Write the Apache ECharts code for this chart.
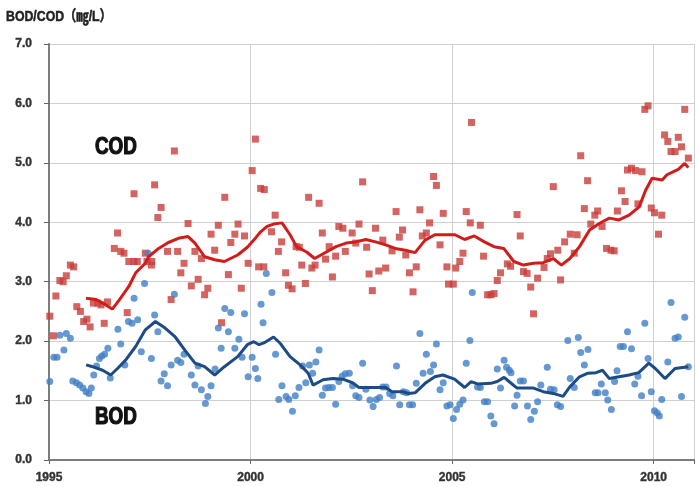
<!DOCTYPE html>
<html>
<head>
<meta charset="utf-8">
<script src="https://cdn.jsdelivr.net/npm/echarts@6/dist/echarts.min.js"></script>
<style>
html,body{margin:0;padding:0;background:#fff;}
#chart{width:697px;height:487px;}
</style>
</head>
<body>
<div id="chart"></div>
<script>
// Monthly COD measurements (year, mg/L)
const codPoints = [
 [1995.02,2.42],[1995.11,2.09],[1995.17,2.76],[1995.27,3.02],[1995.35,3.00],[1995.43,3.10],[1995.53,3.28],[1995.61,3.25],
 [1995.69,2.58],[1995.78,2.50],[1995.86,2.33],[1995.94,2.37],[1996.02,2.24],[1996.10,2.64],[1996.21,2.64],[1996.29,2.61],
 [1996.37,2.30],[1996.45,2.66],[1996.62,3.56],[1996.70,3.82],[1996.78,3.51],[1996.86,3.48],[1996.94,2.48],[1996.98,3.34],
 [1997.11,3.34],[1997.11,4.48],[1997.19,3.34],[1997.39,3.48],[1997.43,3.34],[1997.54,3.28],[1997.55,3.34],[1997.62,4.63],
 [1997.70,4.08],[1997.78,4.25],[1997.94,3.51],[1998.03,2.70],[1998.11,5.20],[1998.19,3.51],[1998.27,3.15],[1998.35,3.31],
 [1998.45,3.98],[1998.53,2.93],[1998.62,3.51],[1998.70,3.04],[1998.78,3.39],[1998.86,2.78],[1998.94,2.89],[1999.02,3.80],
 [1999.11,3.53],[1999.20,3.95],[1999.28,2.31],[1999.36,4.42],[1999.45,3.12],[1999.51,3.66],[1999.61,3.80],[1999.69,3.97],
 [1999.77,2.89],[1999.85,3.77],[1999.94,3.31],[2000.04,4.87],[2000.12,5.40],[2000.20,3.25],[2000.25,4.57],[2000.33,3.25],
 [2000.34,4.55],[2000.52,3.84],[2000.61,4.12],[2000.69,3.51],[2000.77,3.67],[2000.87,3.15],[2000.94,2.94],[2001.03,2.88],
 [2001.13,3.59],[2001.21,3.58],[2001.27,3.28],[2001.36,2.97],[2001.44,4.42],[2001.52,3.23],[2001.60,3.28],[2001.70,4.32],
 [2001.78,3.82],[2001.86,3.38],[2001.95,3.59],[2002.03,3.08],[2002.11,3.43],[2002.19,3.93],[2002.29,3.90],[2002.35,3.51],
 [2002.52,3.82],[2002.61,3.65],[2002.69,3.97],[2002.78,4.68],[2002.88,3.58],[2002.94,3.13],[2003.02,2.85],[2003.10,3.90],
 [2003.18,3.18],[2003.28,3.70],[2003.35,3.23],[2003.51,3.52],[2003.61,4.18],[2003.69,3.75],[2003.77,3.87],[2003.85,3.45],
 [2003.94,3.15],[2004.03,2.83],[2004.11,3.25],[2004.20,4.21],[2004.26,3.77],[2004.36,3.82],[2004.44,3.99],[2004.54,4.77],
 [2004.61,4.62],[2004.70,3.62],[2004.78,4.15],[2004.87,3.25],[2004.91,2.96],[2005.03,2.96],[2005.09,3.23],[2005.19,3.34],
 [2005.27,3.48],[2005.35,4.18],[2005.45,3.99],[2005.48,5.68],[2005.70,3.95],[2005.78,3.43],[2005.88,2.78],[2005.96,2.78],
 [2006.04,2.80],[2006.12,3.02],[2006.20,3.15],[2006.37,3.30],[2006.45,3.26],[2006.61,4.13],[2006.69,3.77],[2006.77,3.17],
 [2006.86,3.14],[2006.95,2.91],[2007.02,2.46],[2007.12,3.06],[2007.28,3.24],[2007.36,3.39],[2007.44,3.47],[2007.51,4.60],
 [2007.62,3.53],[2007.69,3.03],[2007.79,3.67],[2007.93,3.80],[2008.03,3.48],[2008.10,3.79],[2008.19,5.12],[2008.28,4.23],
 [2008.36,4.70],[2008.44,3.97],[2008.54,4.12],[2008.61,4.19],[2008.72,3.93],[2008.83,3.56],[2008.94,3.53],[2009.02,3.52],
 [2009.10,4.19],[2009.20,4.53],[2009.29,4.35],[2009.35,4.88],[2009.45,4.91],[2009.55,4.87],[2009.61,4.31],[2009.71,4.85],
 [2009.78,5.90],[2009.86,5.96],[2009.94,4.24],[2010.02,4.16],[2010.12,3.80],[2010.20,4.12],[2010.27,5.47],[2010.35,5.36],
 [2010.43,5.19],[2010.53,5.19],[2010.61,5.43],[2010.69,5.27],[2010.77,5.90],[2010.86,5.08]
];

// Monthly BOD measurements (year, mg/L)
const bodPoints = [
 [1995.02,1.32],[1995.12,1.73],[1995.20,1.73],[1995.27,2.10],[1995.37,1.85],[1995.43,2.13],[1995.53,2.05],[1995.59,1.33],
 [1995.68,1.30],[1995.76,1.26],[1995.84,1.21],[1995.92,1.15],[1995.99,1.12],[1996.05,1.21],[1996.11,1.43],[1996.18,1.58],
 [1996.25,1.71],[1996.31,1.75],[1996.38,1.78],[1996.46,1.88],[1996.52,1.38],[1996.71,2.20],[1996.78,1.95],[1996.88,1.60],
 [1996.97,2.33],[1997.06,2.30],[1997.11,2.72],[1997.20,2.36],[1997.29,1.82],[1997.37,2.97],[1997.46,3.48],[1997.54,1.71],
 [1997.62,2.44],[1997.70,2.16],[1997.78,1.33],[1997.86,1.45],[1997.94,1.25],[1998.03,1.60],[1998.11,2.79],[1998.19,1.68],
 [1998.27,1.64],[1998.35,1.78],[1998.53,1.43],[1998.62,1.26],[1998.70,1.58],[1998.78,1.18],[1998.88,0.95],[1998.94,1.07],
 [1999.02,1.25],[1999.12,1.53],[1999.20,2.22],[1999.27,1.88],[1999.36,2.55],[1999.45,2.16],[1999.51,2.48],[1999.61,1.88],
 [1999.71,2.03],[1999.79,1.73],[1999.85,2.46],[1999.94,1.40],[2000.04,1.73],[2000.12,1.54],[2000.18,1.37],[2000.26,2.62],
 [2000.31,2.31],[2000.39,3.14],[2000.53,2.82],[2000.62,1.78],[2000.70,1.02],[2000.78,1.25],[2000.88,1.07],[2000.95,1.02],
 [2001.04,0.82],[2001.11,1.08],[2001.20,1.22],[2001.29,1.58],[2001.37,1.30],[2001.46,1.60],[2001.54,1.46],[2001.62,1.65],
 [2001.70,1.85],[2001.78,1.09],[2001.86,1.21],[2001.94,1.22],[2002.03,1.22],[2002.11,0.94],[2002.19,1.32],[2002.27,1.41],
 [2002.35,1.45],[2002.45,1.46],[2002.53,1.25],[2002.61,1.08],[2002.69,1.05],[2002.78,1.63],[2002.86,1.19],[2002.96,1.01],
 [2003.04,0.90],[2003.12,1.02],[2003.20,1.05],[2003.28,1.23],[2003.36,1.23],[2003.45,1.12],[2003.53,1.08],[2003.62,1.58],
 [2003.70,0.93],[2003.79,1.15],[2003.87,1.13],[2003.94,0.93],[2004.02,0.93],[2004.11,1.29],[2004.20,2.13],[2004.28,1.46],
 [2004.36,1.78],[2004.46,1.49],[2004.54,1.60],[2004.61,1.95],[2004.70,1.18],[2004.78,1.30],[2004.87,0.91],[2004.95,0.93],
 [2005.03,0.70],[2005.11,0.85],[2005.19,0.94],[2005.27,1.01],[2005.35,1.63],[2005.44,2.01],[2005.50,2.82],[2005.63,1.23],
 [2005.70,1.22],[2005.80,0.98],[2005.88,0.98],[2005.96,0.74],[2006.04,0.61],[2006.12,1.53],[2006.20,1.21],[2006.29,1.68],
 [2006.35,1.56],[2006.42,1.51],[2006.46,1.47],[2006.55,0.91],[2006.61,1.09],[2006.69,1.33],[2006.77,1.33],[2006.87,0.91],
 [2006.95,0.68],[2007.04,0.82],[2007.12,0.98],[2007.20,1.26],[2007.36,1.56],[2007.44,1.19],[2007.53,1.18],[2007.61,0.93],
 [2007.69,0.90],[2007.87,2.01],[2007.93,1.37],[2008.03,1.22],[2008.13,2.06],[2008.19,1.81],[2008.28,1.60],[2008.37,1.86],
 [2008.55,1.13],[2008.62,1.13],[2008.70,1.28],[2008.80,1.13],[2008.86,1.01],[2008.95,0.85],[2009.03,1.32],[2009.09,1.50],
 [2009.17,1.91],[2009.25,1.91],[2009.35,2.16],[2009.45,1.87],[2009.53,1.28],[2009.61,1.41],[2009.70,1.08],[2009.78,2.30],
 [2009.86,1.71],[2009.94,1.15],[2010.02,0.83],[2010.09,0.79],[2010.14,0.74],[2010.20,1.02],[2010.35,1.65],[2010.43,2.65],
 [2010.53,2.05],[2010.61,2.07],[2010.69,1.07],[2010.77,2.40],[2010.86,1.57]
];

// 12-month moving averages (year, mg/L)
const codTrend = [
 [1995.92,2.72],[1996.17,2.70],[1996.41,2.61],[1996.57,2.54],[1996.74,2.69],[1996.98,2.92],[1997.15,3.15],[1997.39,3.31],
 [1997.47,3.42],[1997.72,3.56],[1997.96,3.66],[1998.21,3.73],[1998.45,3.76],[1998.62,3.65],[1998.86,3.42],[1999.11,3.37],
 [1999.35,3.34],[1999.68,3.45],[1999.92,3.58],[2000.08,3.70],[2000.25,3.84],[2000.41,3.93],[2000.57,3.97],[2000.78,3.99],
 [2000.98,3.79],[2001.14,3.59],[2001.39,3.50],[2001.59,3.39],[2001.88,3.50],[2002.12,3.59],[2002.37,3.65],[2002.61,3.67],
 [2002.86,3.71],[2003.10,3.67],[2003.35,3.62],[2003.59,3.56],[2003.84,3.53],[2004.08,3.49],[2004.33,3.70],[2004.57,3.79],
 [2004.82,3.79],[2005.07,3.79],[2005.31,3.71],[2005.55,3.77],[2005.80,3.67],[2006.04,3.59],[2006.28,3.56],[2006.53,3.34],
 [2006.77,3.28],[2007.02,3.31],[2007.26,3.32],[2007.51,3.39],[2007.71,3.28],[2007.92,3.39],[2008.16,3.59],[2008.41,3.87],
 [2008.65,3.98],[2008.90,4.07],[2009.14,4.04],[2009.39,4.12],[2009.64,4.26],[2009.80,4.54],[2009.96,4.74],[2010.21,4.71],
 [2010.33,4.80],[2010.61,4.89],[2010.77,4.99],[2010.86,4.92]
];

const bodTrend = [
 [1995.92,1.60],[1996.08,1.57],[1996.33,1.51],[1996.53,1.43],[1996.70,1.54],[1996.90,1.68],[1997.15,1.91],[1997.39,2.19],
 [1997.64,2.33],[1997.88,2.22],[1998.13,2.07],[1998.37,1.85],[1998.62,1.63],[1998.86,1.57],[1999.11,1.43],[1999.35,1.57],
 [1999.68,1.74],[1999.92,1.94],[2000.08,1.99],[2000.21,1.94],[2000.33,1.97],[2000.57,2.07],[2000.74,1.96],[2000.98,1.74],
 [2001.23,1.60],[2001.43,1.46],[2001.55,1.26],[2001.80,1.35],[2002.04,1.37],[2002.29,1.36],[2002.53,1.30],[2002.69,1.22],
 [2003.02,1.22],[2003.35,1.22],[2003.51,1.15],[2003.76,1.15],[2003.92,1.12],[2004.08,1.13],[2004.33,1.29],[2004.57,1.40],
 [2004.77,1.43],[2005.06,1.36],[2005.31,1.22],[2005.47,1.32],[2005.63,1.28],[2005.96,1.29],[2006.12,1.32],[2006.29,1.39],
 [2006.45,1.30],[2006.61,1.21],[2007.02,1.21],[2007.26,1.15],[2007.51,1.12],[2007.75,1.07],[2007.92,1.23],[2008.16,1.40],
 [2008.37,1.46],[2008.57,1.47],[2008.73,1.51],[2008.90,1.37],[2009.14,1.40],[2009.39,1.43],[2009.63,1.47],[2009.88,1.63],
 [2010.04,1.54],[2010.28,1.37],[2010.53,1.54],[2010.86,1.57]
];

const yearTicks = [1995, 2000, 2005, 2010];
const titleText = 'BOD/COD（㎎/L）';
const codLabel = 'COD';
const bodLabel = 'BOD';

const sans = 'Liberation Sans, Arial, sans-serif';
const narrowScale = 0.82;   // horizontal squeeze for a condensed look

const chart = echarts.init(document.getElementById('chart'), null, {renderer: 'canvas'});

chart.setOption({
  animation: false,
  backgroundColor: '#ffffff',
  grid: {left: 49, top: 44, right: -6, bottom: 27, containLabel: false},
  xAxis: {
    type: 'value',
    min: 1995,
    max: 2011,
    interval: 5,
    axisLine: {show: true, onZero: false, lineStyle: {color: '#7d7d7d', width: 2}},
    axisTick: {show: true, length: 4, lineStyle: {color: '#666', width: 1}},
    splitLine: {show: true, lineStyle: {color: '#d0d0d0', width: 1}},
    axisLabel: {
      margin: 12,
      fontFamily: sans,
      fontWeight: 'bold',
      fontSize: 12,
      color: '#333',
      textBorderColor: '#333',
      textBorderWidth: 0.4,
      formatter: v => yearTicks.indexOf(v) >= 0 ? String(v) : ''
    }
  },
  yAxis: {
    type: 'value',
    min: 0,
    max: 7,
    interval: 1,
    axisLine: {show: true, lineStyle: {color: '#7d7d7d', width: 2}},
    axisTick: {show: true, length: 5, lineStyle: {color: '#666', width: 1}},
    splitLine: {show: true, lineStyle: {color: '#d0d0d0', width: 1}},
    axisLabel: {
      margin: 17,
      fontFamily: sans,
      fontWeight: 'bold',
      fontSize: 12,
      color: '#333',
      textBorderColor: '#333',
      textBorderWidth: 0.4,
      formatter: v => v.toFixed(1)
    }
  },
  series: [
    {
      name: 'COD',
      type: 'scatter',
      symbol: 'rect',
      symbolSize: 7,
      itemStyle: {color: '#c83d3b'},
      data: codPoints,
      z: 2
    },
    {
      name: 'BOD',
      type: 'scatter',
      symbol: 'circle',
      symbolSize: 7,
      itemStyle: {color: '#4080c6'},
      data: bodPoints,
      z: 2
    },
    {
      name: 'COD avg',
      type: 'line',
      showSymbol: false,
      data: codTrend,
      lineStyle: {color: '#d11c1c', width: 3},
      itemStyle: {color: '#d11c1c'},
      z: 3
    },
    {
      name: 'BOD avg',
      type: 'line',
      showSymbol: false,
      data: bodTrend,
      lineStyle: {color: '#1c4b86', width: 3},
      itemStyle: {color: '#1c4b86'},
      z: 3
    }
  ],
  graphic: [
    {
      type: 'text', x: 6, y: 9, scaleX: narrowScale,
      style: {text: titleText, font: 'bold 15px Liberation Sans, Noto Sans CJK JP, sans-serif', fill: '#222', stroke: '#222', lineWidth: 0.5, verticalAlign: 'top'}
    },
    {
      type: 'text', x: 95, y: 136, scaleX: narrowScale,
      style: {text: codLabel, font: 'bold 23px Liberation Sans, Arial, sans-serif', fill: '#111', stroke: '#111', lineWidth: 1.2, verticalAlign: 'top'}
    },
    {
      type: 'text', x: 95, y: 406, scaleX: narrowScale,
      style: {text: bodLabel, font: 'bold 23px Liberation Sans, Arial, sans-serif', fill: '#111', stroke: '#111', lineWidth: 1.2, verticalAlign: 'top'}
    }
  ]
});
</script>
</body>
</html>
